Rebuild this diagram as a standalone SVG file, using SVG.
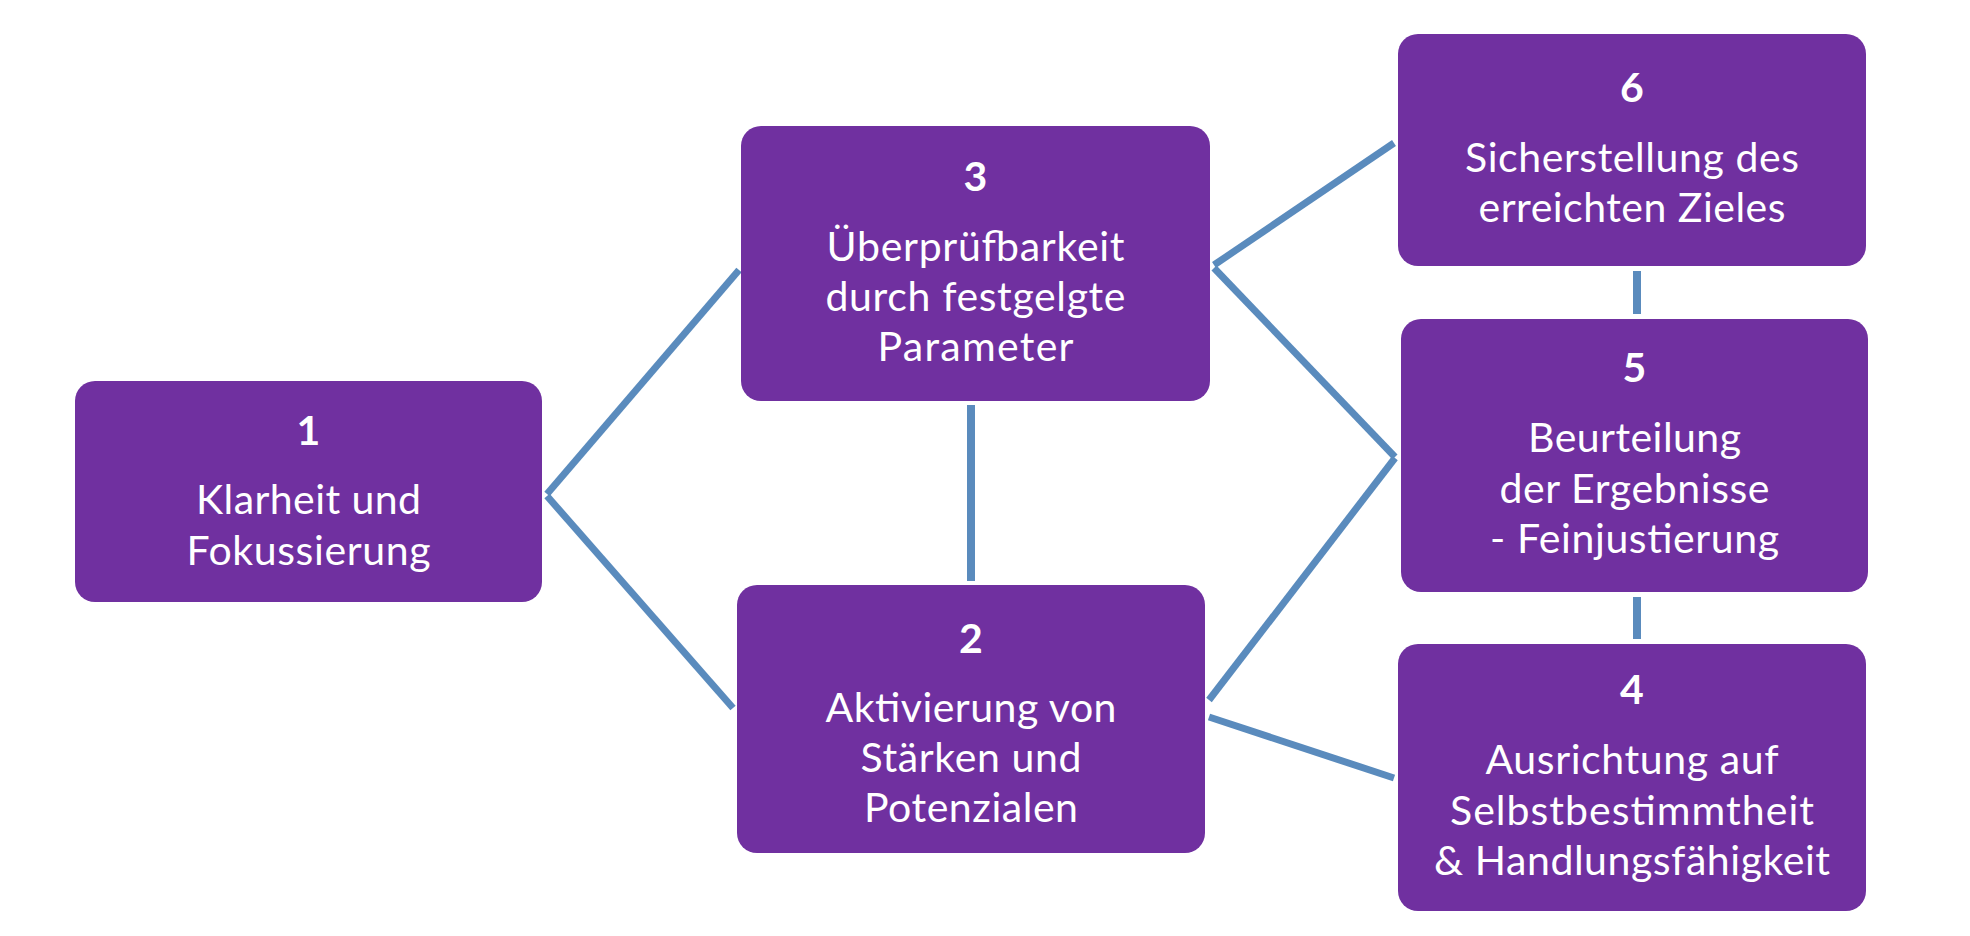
<svg xmlns="http://www.w3.org/2000/svg" width="1970" height="936" viewBox="0 0 1970 936">
<style>
.box{fill:#7030A0;}
.t{font-family:Lato,"Open Sans","Liberation Sans",sans-serif;font-size:41px;fill:#FFFFFF;text-anchor:middle;}
.n{font-weight:bold;}
.c{stroke:#5A8BBD;stroke-width:7;fill:none;stroke-linecap:butt;}
.v{stroke-width:8;}
</style>
<rect width="1970" height="936" fill="#FFFFFF"/>
<g id="connectors">
<line class="c" x1="547" y1="494" x2="739" y2="270"/>
<line class="c" x1="547" y1="496" x2="733" y2="708"/>
<line class="c v" x1="971" y1="405" x2="971" y2="581"/>
<line class="c" x1="1214" y1="265" x2="1394" y2="143"/>
<line class="c" x1="1214" y1="268" x2="1395" y2="457"/>
<line class="c" x1="1209" y1="700" x2="1395" y2="458"/>
<line class="c" x1="1209" y1="717" x2="1394" y2="778"/>
<line class="c v" x1="1637" y1="271" x2="1637" y2="314"/>
<line class="c v" x1="1637" y1="597" x2="1637" y2="639"/>
</g>
<g id="node1">
<rect class="box" x="75" y="381" width="467" height="221" rx="20" ry="20"/>
<text class="t n" x="308.5" y="445">1</text>
<text class="t" x="308.5" y="514" textLength="225">Klarheit und</text>
<text class="t" x="308.5" y="565" textLength="244">Fokussierung</text>
</g>
<g id="node3">
<rect class="box" x="741" y="126" width="469" height="275" rx="20" ry="20"/>
<text class="t n" x="975.5" y="191">3</text>
<text class="t" x="975.5" y="261" textLength="298">Überprüfbarkeit</text>
<text class="t" x="975.5" y="311" textLength="300">durch festgelgte</text>
<text class="t" x="975.5" y="361" textLength="196">Parameter</text>
</g>
<g id="node2">
<rect class="box" x="737" y="585" width="468" height="268" rx="20" ry="20"/>
<text class="t n" x="971" y="653">2</text>
<text class="t" x="971" y="722" textLength="291">Aktivierung von</text>
<text class="t" x="971" y="772" textLength="221">Stärken und</text>
<text class="t" x="971" y="822" textLength="214">Potenzialen</text>
</g>
<g id="node6">
<rect class="box" x="1398" y="34" width="468" height="232" rx="20" ry="20"/>
<text class="t n" x="1632" y="102">6</text>
<text class="t" x="1632" y="172" textLength="334">Sicherstellung des</text>
<text class="t" x="1632" y="222" textLength="307">erreichten Zieles</text>
</g>
<g id="node5">
<rect class="box" x="1401" y="319" width="467" height="273" rx="20" ry="20"/>
<text class="t n" x="1634.5" y="382">5</text>
<text class="t" x="1634.5" y="452" textLength="213">Beurteilung</text>
<text class="t" x="1634.5" y="503" textLength="270">der Ergebnisse</text>
<text class="t" x="1634.5" y="553" textLength="289">- Feinjustierung</text>
</g>
<g id="node4">
<rect class="box" x="1398" y="644" width="468" height="267" rx="20" ry="20"/>
<text class="t n" x="1632" y="704">4</text>
<text class="t" x="1632" y="774" textLength="293">Ausrichtung auf</text>
<text class="t" x="1632" y="825" textLength="364">Selbstbestimmtheit</text>
<text class="t" x="1632" y="875" textLength="396">&amp; Handlungsfähigkeit</text>
</g>
</svg>
